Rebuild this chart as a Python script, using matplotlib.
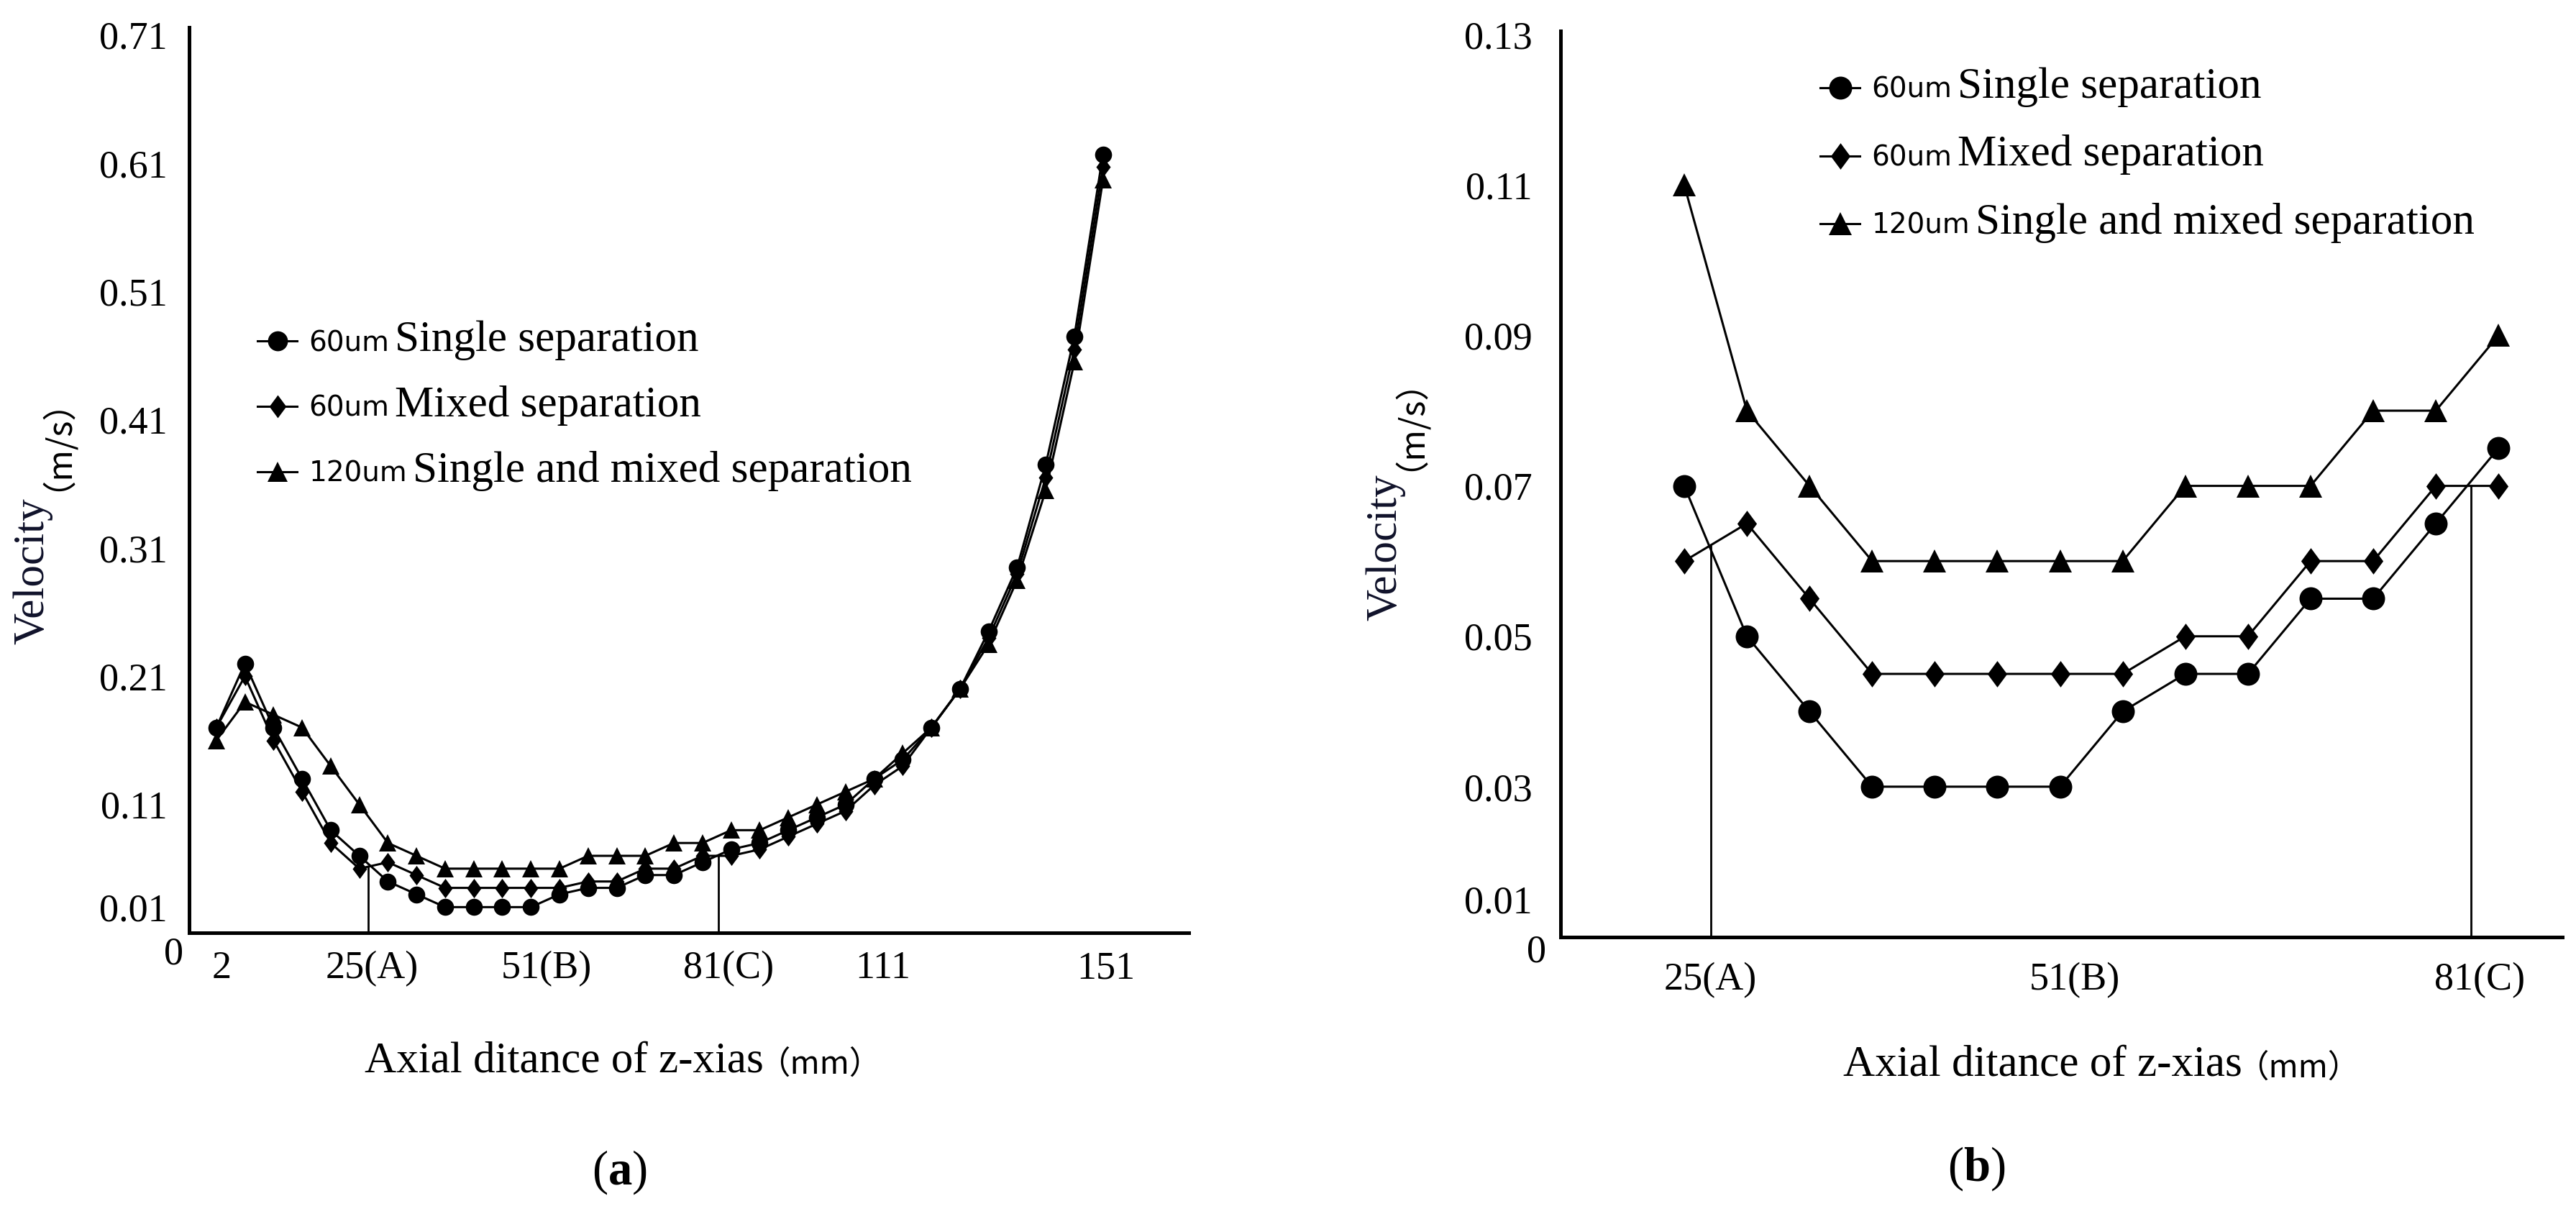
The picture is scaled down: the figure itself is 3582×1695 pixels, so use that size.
import numpy as np
import matplotlib
matplotlib.use("Agg")
import matplotlib.pyplot as plt
from matplotlib.lines import Line2D
from matplotlib.transforms import IdentityTransform, offset_copy

W, H, DPI = 3582, 1695, 200

plt.rcParams['font.family'] = ['Liberation Serif', 'DejaVu Sans']
plt.rcParams['mathtext.fontset'] = 'custom'
plt.rcParams['mathtext.rm'] = 'Liberation Serif'
plt.rcParams['mathtext.bf'] = 'Liberation Serif:bold'

# ---- (a) whole z range, 32 stations
ticks_a = ['2', '25(A)', '51(B)', '81(C)', '111', '151']
tickpos_a = [0.18, 5.45, 11.55, 17.9, 23.3, 31.1]
single_a = [0.17, 0.22, 0.17, 0.13, 0.09, 0.07, 0.05, 0.04, 0.03, 0.03, 0.03, 0.03,
            0.04, 0.045, 0.045, 0.055, 0.055, 0.065, 0.075, 0.08, 0.09, 0.10, 0.11,
            0.13, 0.145, 0.17, 0.20, 0.245, 0.295, 0.375, 0.475, 0.617]
mixed_a = [0.17, 0.21, 0.16, 0.12, 0.08, 0.06, 0.065, 0.055, 0.045, 0.045, 0.045, 0.045,
           0.045, 0.05, 0.05, 0.06, 0.06, 0.07, 0.07, 0.075, 0.085, 0.095, 0.105,
           0.125, 0.14, 0.17, 0.20, 0.24, 0.29, 0.365, 0.465, 0.607]
coarse_a = [0.16, 0.19, 0.18, 0.17, 0.14, 0.11, 0.08, 0.07, 0.06, 0.06, 0.06, 0.06,
            0.06, 0.07, 0.07, 0.07, 0.08, 0.08, 0.09, 0.09, 0.10, 0.11, 0.12,
            0.13, 0.15, 0.17, 0.20, 0.235, 0.285, 0.355, 0.455, 0.597]
sections_a = [5.31, 17.55]
yticks_a = [0.11, 0.21, 0.31, 0.41, 0.51, 0.61, 0.71]

# ---- (b) section A..C, 14 stations
ticks_b = ['25(A)', '51(B)', '81(C)']
tickpos_b = [0.42, 6.23, 12.7]
single_b = [0.07, 0.05, 0.04, 0.03, 0.03, 0.03, 0.03, 0.04, 0.045, 0.045, 0.055, 0.055, 0.065, 0.075]
mixed_b = [0.06, 0.065, 0.055, 0.045, 0.045, 0.045, 0.045, 0.045, 0.05, 0.05, 0.06, 0.06, 0.07, 0.07]
coarse_b = [0.11, 0.08, 0.07, 0.06, 0.06, 0.06, 0.06, 0.06, 0.07, 0.07, 0.07, 0.08, 0.08, 0.09]
sections_b = [0.42, 12.56]
yticks_b = [0.03, 0.05, 0.07, 0.09, 0.11, 0.13]

units = ['60um', '60um', '120um']
names = ['Single separation', 'Mixed separation', 'Single and mixed separation']

# rhombus a bit narrower than tall, like the Excel diamond
RHOMB = [(0, 1), (0.74, 0), (0, -1), (-0.74, 0), (0, 1)]
MARKERS = [('o', 1.0), (RHOMB, 1.15), ('^', 1.0)]

fig = plt.figure(figsize=(W / DPI, H / DPI), dpi=DPI)


def px(x, y):
    return x / W, 1 - y / H


def panel(rect, xlim, ylim, series, sections, tickpos, ticks, yticks,
          ms, lab01_dy, zero_off, ypad, xpad):
    ax = fig.add_axes(rect)
    x = np.arange(len(series[0]))
    for vals, (m, f) in zip(series, MARKERS):
        ax.plot(x, vals, color='black', lw=1.1, marker=m, ms=ms * f, mew=0, zorder=3)
    tops = np.interp(sections, x, series[1])
    ax.vlines(sections, ylim[0], tops, color='black', lw=1.0, zorder=2)
    ax.set_xlim(*xlim)
    ax.set_ylim(*ylim)
    ax.set_xticks(tickpos)
    ax.set_xticklabels(ticks)
    ax.set_yticks(yticks)
    ax.set_yticklabels([f'{v:.2f}' for v in yticks])
    ax.tick_params(axis='both', length=0, labelsize=19.5)
    ax.tick_params(axis='y', pad=ypad)
    ax.tick_params(axis='x', pad=xpad)
    for s in ('top', 'right'):
        ax.spines[s].set_visible(False)
    for s in ('left', 'bottom'):
        ax.spines[s].set_linewidth(1.8)
    # bottom label sits a little above the axis, plus a "0" at the corner
    ax.text(0, ylim[0], f'{ylim[0]:.2f}', fontsize=19.5, ha='right', va='center',
            transform=offset_copy(ax.get_yaxis_transform(), fig=fig, x=-ypad, y=lab01_dy,
                                  units='points'))
    ax.text(0, 0, '0', fontsize=19.5, ha='center', va='center',
            transform=offset_copy(ax.transAxes, fig=fig, x=zero_off[0], y=zero_off[1],
                                  units='points'))
    return ax


ax_a = panel([263 / W, 1 - 1297 / H, (1653 - 263) / W, (1297 - 38) / H],
             (-0.95, 34.0), (0.01, 0.716), (single_a, mixed_a, coarse_a), sections_a,
             tickpos_a, ticks_a, yticks_a, 8.5, 10.8, (-7.9, -11), 10.8, 9)
ax_b = panel([2170 / W, 1 - 1303 / H, (3563 - 2170) / W, (1303 - 43) / H],
             (-1.975, 14.02), (0.01, 0.1305), (single_b, mixed_b, coarse_b), sections_b,
             tickpos_b, ticks_b, yticks_b, 11.5, 17, (-12, -7.6), 14, 12.6)

# axis titles
cjk = ['Noto Sans CJK SC', 'DejaVu Sans']
for xr, yc in ((1062, 1476), (3118, 1481)):
    fig.text(*px(xr, yc), 'Axial ditance of z-xias', fontsize=22, ha='right', va='center')
    fig.text(*px(xr + 78, yc + 4), '（mm）', fontsize=16, family=cjk, ha='center', va='center')

for xc, ytop, ymid in ((46, 692, 594), (1927, 659, 566)):
    fig.text(*px(xc, ytop), 'Velocity', fontsize=22, rotation=90, ha='center', va='top',
             color='#10122a')
    fig.text(*px(xc + 8, ymid), '（m/s）', fontsize=17, family=cjk, rotation=90,
             ha='center', va='center')

fig.text(*px(861, 1630), r'($\mathbf{a}$)', fontsize=24, ha='center', va='center')
fig.text(*px(2748, 1625), r'($\mathbf{b}$)', fontsize=24, ha='center', va='center')

# legends: small sans unit text followed by larger serif name
legs = []
for ax, anchor, ms, spacing in ((ax_a, (358, 458), 10, 1.36), (ax_b, (2531, 106), 11.5, 1.45)):
    handles = [Line2D([], [], color='black', lw=1.1, marker=m, ms=ms * f, mew=0)
               for m, f in MARKERS]
    leg = ax.legend(handles, units, loc='upper left', bbox_to_anchor=px(*anchor),
                    bbox_transform=fig.transFigure, frameon=False, numpoints=1,
                    prop={'family': 'DejaVu Sans', 'size': 14}, handlelength=1.42,
                    handletextpad=0.42, labelspacing=spacing, borderpad=0, borderaxespad=0)
    legs.append(leg)

fig.canvas.draw()
renderer = fig.canvas.get_renderer()
for leg in legs:
    for txt, name in zip(leg.get_texts(), names):
        bb = txt.get_window_extent(renderer)
        # text boxes are laid out with the descent of "lp"
        _, _, d = renderer.get_text_width_height_descent('lp', txt.get_fontproperties(),
                                                          ismath=False)
        fig.text(bb.x1 + 8, bb.y0 + d, name, fontsize=22, ha='left', va='baseline',
                 transform=IdentityTransform())

fig.savefig('out.png', dpi=DPI)
